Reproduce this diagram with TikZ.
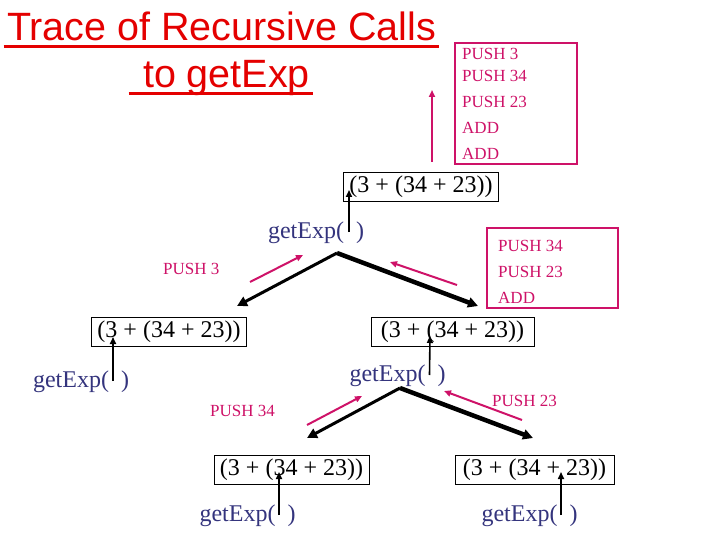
\documentclass[tikz,border=0pt]{standalone}
\usepackage{fontspec}
\setmainfont{Liberation Serif}
\newfontfamily\titlefont{Liberation Sans}
\usetikzlibrary{arrows.meta}
\definecolor{ctitle}{RGB}{228,  0,  0}
\definecolor{cpush}{RGB}{206, 18,104}
\definecolor{ccall}{RGB}{ 52, 52,125}
\tikzset{
  expr/.style={draw,line width=0.8pt,inner sep=0pt,minimum width=155pt,minimum height=29pt,
    font=\fontsize{24}{28}\selectfont},
  call/.style={anchor=base,text=ccall,font=\fontsize{24}{28}\selectfont},
  code/.style={text=cpush,align=left,inner sep=0pt,font=\fontsize{17}{26}\selectfont},
  callup/.style={line width=1.6pt,-{Triangle[length=7pt,width=6pt]}},
  branch/.style={line width=3pt,-{Triangle[length=10pt,width=10pt]}},
  ret/.style={cpush,line width=2pt,-{Triangle[length=7pt,width=6pt]}},
}

\begin{document}
\begin{tikzpicture}[x=1pt,y=-1pt]

  % fixed frame of the slide
  \path[use as bounding box] (0,0) rectangle (720,540);

  % ---------------- Title ----------------
  \node[anchor=base,text=ctitle,font=\titlefont\fontsize{39.5}{48}\selectfont] (t1) at (221.5,41) {Trace of Recursive Calls};
  \node[anchor=base,text=ctitle,font=\titlefont\fontsize{39.5}{48}\selectfont] (t2) at (221,88) {\ to getExp};
  \draw[ctitle,line width=3pt] ([yshift=-6pt]t1.base west) -- ([yshift=-6pt]t1.base east);
  \draw[ctitle,line width=3pt] ([yshift=-6pt]t2.base west) -- ([yshift=-6pt]t2.base east);

  % ---------------- Top level ----------------
  \draw[cpush,line width=2pt] (455,43) rectangle (577,164);
  \node[code,anchor=north west] (c0) at (462,48)
    {PUSH 3\\[-4pt]PUSH 34\\PUSH 23\\ADD\\ADD};
  \coordinate (r0a) at (432,162);
  \coordinate (r0b) at (432,90);
  \draw[ret] (r0a) -- (r0b);

  \node[expr] (e0) at (421,187) {(3 + (34 + 23))};
  \node[call] (g0) at (316,238) {getExp(\ \ )};
  \draw[callup] ([xshift=33pt,yshift=6pt]g0.base) -- ([xshift=-72pt,yshift=-3pt]e0.center);

  \coordinate (v0) at (337,253);
  \coordinate (v0l) at (237,306);
  \coordinate (v0r) at (478,306);
  \draw[branch] (v0) -- (v0l);
  \draw[branch,line width=4.5pt] (v0) -- (v0r);

  % returned code
  \coordinate (p0a) at (250,282);
  \coordinate (p0b) at (303,255);
  \coordinate (p1a) at (457,285);
  \coordinate (p1b) at (390,262);
  \draw[ret] (p0a) -- (p0b);
  \draw[ret] (p1a) -- (p1b);
  \node[code,anchor=base west] (c1) at (163,274) {PUSH 3};
  \draw[cpush,line width=2pt] (487,228) rectangle (618,308);
  \node[code,anchor=north west] (c2) at (498,240.5) {PUSH 34\\PUSH 23\\ADD};

  % ---------------- Second level ----------------
  \node[expr] (e1) at (169,332) {(3 + (34 + 23))};
  \node[expr,minimum width=163pt] (e2) at (452.5,332) {(3 + (34 + 23))};
  \node[call] (g1) at (81,387) {getExp(\ \ )};
  \node[call] (g2) at (397.5,381) {getExp(\ \ )};
  \draw[callup] ([xshift=32pt,yshift=6pt]g1.base) -- ([xshift=-56pt,yshift=-5pt]e1.center);
  \draw[callup] ([xshift=32pt,yshift=6pt]g2.base) -- ([xshift=-22.5pt,yshift=-4pt]e2.center);

  \coordinate (v1) at (400,388);
  \coordinate (v1l) at (307,438);
  \coordinate (v1r) at (533,438);
  \draw[branch] (v1) -- (v1l);
  \draw[branch,line width=4.5pt] (v1) -- (v1r);

  \coordinate (p2a) at (307,425);
  \coordinate (p2b) at (362,396);
  \coordinate (p3a) at (522,420);
  \coordinate (p3b) at (444,391);
  \draw[ret] (p2a) -- (p2b);
  \draw[ret] (p3a) -- (p3b);
  \node[code,anchor=base west] (c3) at (210,416) {PUSH 34};
  \node[code,anchor=base west] (c4) at (492,406) {PUSH 23};

  % ---------------- Third level ----------------
  \node[expr] (e3) at (291.5,470) {(3 + (34 + 23))};
  \node[expr,minimum width=159pt] (e4) at (534.5,470) {(3 + (34 + 23))};
  \node[call] (g3) at (247.5,521) {getExp(\ \ )};
  \node[call] (g4) at (529.5,521) {getExp(\ \ )};
  \draw[callup] ([xshift=31.5pt,yshift=6pt]g3.base) -- ([xshift=-12.5pt,yshift=-2pt]e3.center);
  \draw[callup] ([xshift=31.5pt,yshift=6pt]g4.base) -- ([xshift=26.5pt,yshift=-2pt]e4.center);

\end{tikzpicture}
\end{document}
